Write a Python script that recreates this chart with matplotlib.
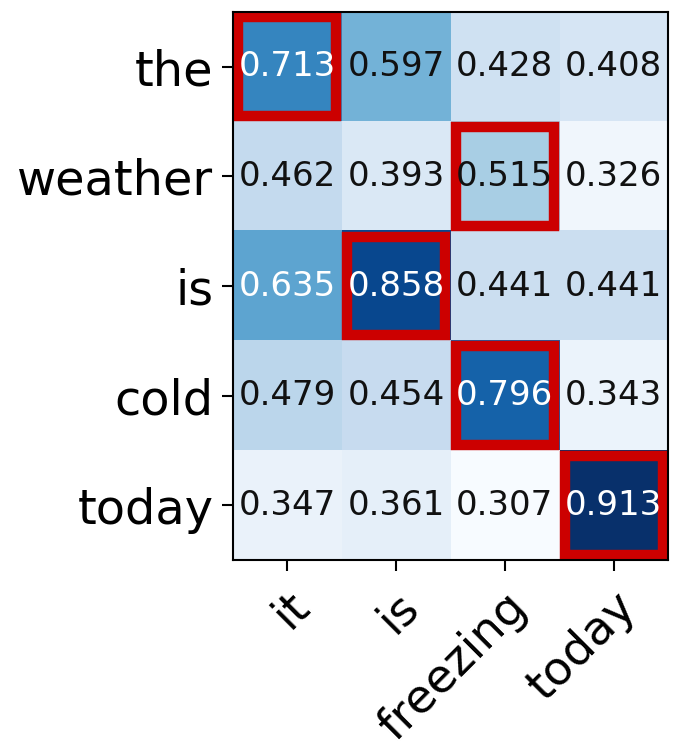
import numpy as np
import matplotlib
matplotlib.use("Agg")
import matplotlib.pyplot as plt
from matplotlib.patches import Rectangle

rows = ["the", "weather", "is", "cold", "today"]
cols = ["it", "is", "freezing", "today"]
scores = np.array([
    [0.713, 0.597, 0.428, 0.408],
    [0.462, 0.393, 0.515, 0.326],
    [0.635, 0.858, 0.441, 0.441],
    [0.479, 0.454, 0.796, 0.343],
    [0.347, 0.361, 0.307, 0.913],
])

fig = plt.figure(figsize=(6.73, 7.49), dpi=100)
ax = fig.add_axes([0.346, 0.2523, 0.6466, 0.7317])
ax.imshow(scores, cmap="Blues", aspect="auto")

for s in ax.spines.values():
    s.set_linewidth(1.5)

ax.set_xticks(range(len(cols)))
ax.set_yticks(range(len(rows)))
ax.set_xticklabels(cols, fontsize=33.5)
ax.set_yticklabels(rows, fontsize=34.5)
ax.tick_params(length=8, width=1.5)
ax.tick_params(axis="y", pad=6)
ax.tick_params(axis="x", pad=9)
plt.setp(ax.get_xticklabels(), rotation=45, ha="right", rotation_mode="anchor")

for i in range(len(rows)):
    for j in range(len(cols)):
        v = scores[i, j]
        ax.text(j, i, "%.3f" % v, ha="center", va="center", fontsize=24.5,
                color="white" if v > 0.6 else "#111111")

# highlight best match per row
for i in range(len(rows)):
    j = int(np.argmax(scores[i]))
    ax.add_patch(Rectangle((j - 0.45, i - 0.45), 0.9, 0.9, fill=False,
                           edgecolor="#cc0000", lw=7.5, clip_on=False))

fig.savefig("out.png", dpi=100)
